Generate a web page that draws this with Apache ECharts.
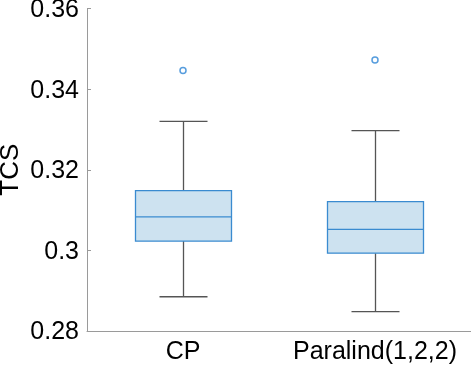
<!DOCTYPE html>
<html>
<head>
<meta charset="utf-8">
<script src="https://cdn.jsdelivr.net/npm/echarts@6/dist/echarts.min.js"></script>
<style>
  html, body { margin: 0; padding: 0; background: #fff; }
  #chart { width: 471px; height: 368px; }
</style>
</head>
<body>
<div id="chart"></div>
<script>
const categories = ["CP", "Paralind(1,2,2)"];
const whiskerLow = [0.2885, 0.2848];
const q1 = [0.3023, 0.2993];
const median = [0.3083, 0.3052];
const q3 = [0.3148, 0.3121];
const whiskerHigh = [0.3320, 0.3297];
const outliers = [[0, 0.3446], [1, 0.3472]];
const yTicks = [0.28, 0.3, 0.32, 0.34, 0.36];

const boxData = categories.map((_, i) => [i, whiskerLow[i], q1[i], median[i], q3[i], whiskerHigh[i]]);

const BLUE = "#3a8bd0";
const FILL = "#cde2f0";
const WHISKER = "#555555";

function renderBox(params, api) {
  const idx = api.value(0);
  const band = api.size([1, 0])[0];
  const boxHalf = band * 0.25;
  const capHalf = band * 0.125;
  const lo = api.coord([idx, api.value(1)]);
  const b1 = api.coord([idx, api.value(2)]);
  const md = api.coord([idx, api.value(3)]);
  const b3 = api.coord([idx, api.value(4)]);
  const hi = api.coord([idx, api.value(5)]);
  const x = Math.round(lo[0]) + 0.5;
  const gray = { stroke: WHISKER, lineWidth: 1.3, fill: null };
  return {
    type: "group",
    children: [
      { type: "line", shape: { x1: x, y1: hi[1], x2: x, y2: b3[1] }, style: gray },
      { type: "line", shape: { x1: x, y1: b1[1], x2: x, y2: lo[1] }, style: gray },
      { type: "line", shape: { x1: x - capHalf, y1: hi[1], x2: x + capHalf, y2: hi[1] }, style: gray },
      { type: "line", shape: { x1: x - capHalf, y1: lo[1], x2: x + capHalf, y2: lo[1] }, style: gray },
      {
        type: "rect",
        shape: { x: x - boxHalf, y: b3[1], width: boxHalf * 2, height: b1[1] - b3[1] },
        style: { fill: FILL, stroke: BLUE, lineWidth: 1.3 }
      },
      { type: "line", shape: { x1: x - boxHalf, y1: md[1], x2: x + boxHalf, y2: md[1] }, style: { stroke: BLUE, lineWidth: 1.3 } }
    ]
  };
}

const chart = echarts.init(document.getElementById("chart"));
chart.setOption({
  animation: false,
  grid: { left: 87, right: 0, top: 8.5, bottom: 37, containLabel: false, outerBoundsMode: "none" },
  xAxis: {
    type: "category",
    data: categories,
    boundaryGap: true,
    axisLine: { lineStyle: { color: "#9a9a9a", width: 1 } },
    axisTick: { inside: true, length: 4, alignWithLabel: true, lineStyle: { color: "#9a9a9a" } },
    axisLabel: { interval: 0, hideOverlap: false, color: "#000", fontSize: 25, fontFamily: "Liberation Sans", margin: 9 },
    splitLine: { show: false }
  },
  yAxis: {
    type: "value",
    min: 0.28,
    max: 0.36,
    interval: 0.02,
    name: "TCS",
    nameLocation: "middle",
    nameGap: 63,
    nameMoveOverlap: false,
    nameTextStyle: { color: "#000", fontSize: 26, fontFamily: "Liberation Sans" },
    axisLine: { show: true, lineStyle: { color: "#9a9a9a", width: 1 } },
    axisTick: { show: true, inside: true, length: 4, lineStyle: { color: "#9a9a9a" } },
    axisLabel: {
      color: "#000",
      fontSize: 25,
      fontFamily: "Liberation Sans",
      margin: 8,
      formatter: (v) => {
        const t = yTicks.find((k) => Math.abs(k - v) < 1e-9);
        return t === undefined ? "" : "{v|" + String(Number(t.toFixed(2))) + "}";
      },
      rich: { v: { fontSize: 25, fontFamily: "Liberation Sans", color: "#000", padding: [3, 0, 0, 0] } }
    },
    splitLine: { show: false }
  },
  series: [
    {
      type: "custom",
      renderItem: renderBox,
      encode: { x: 0, y: [1, 2, 3, 4, 5] },
      data: boxData,
      z: 2
    },
    {
      type: "scatter",
      data: outliers,
      symbol: "circle",
      symbolSize: 6,
      itemStyle: { color: "#fff", borderColor: "#2d85d5", borderWidth: 1.5 },
      z: 3
    }
  ]
});
</script>
</body>
</html>
